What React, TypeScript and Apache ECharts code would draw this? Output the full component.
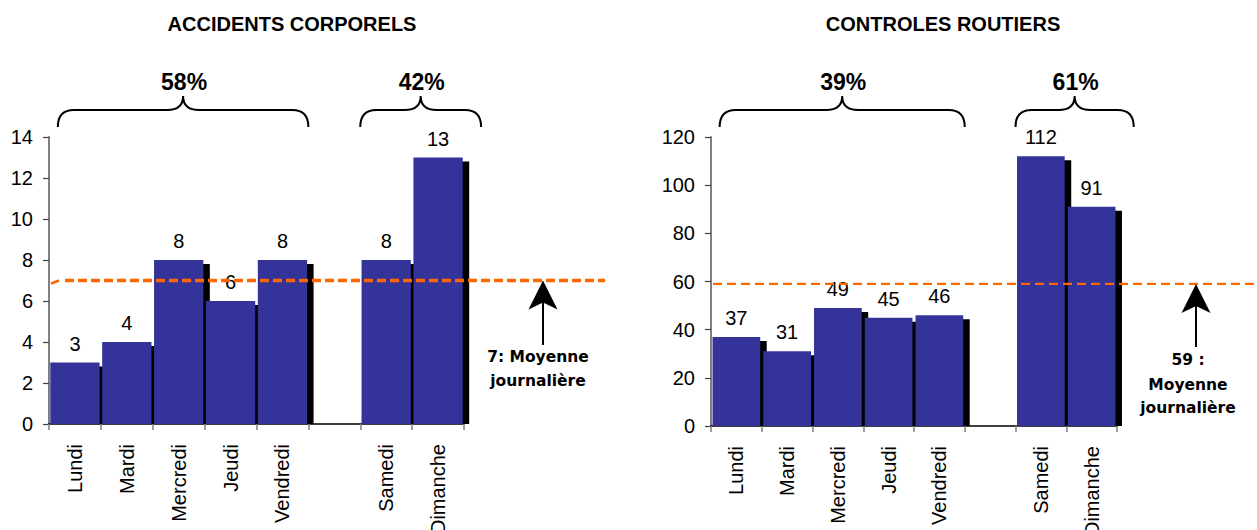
import React, { useEffect, useRef } from 'react';
import * as echarts from 'echarts';

// Days of the week; the empty slot separates weekdays from the weekend.
const days = ['Lundi', 'Mardi', 'Mercredi', 'Jeudi', 'Vendredi', '', 'Samedi', 'Dimanche'];

// ACCIDENTS CORPORELS
const accidents: (number | null)[] = [3, 4, 8, 6, 8, null, 8, 13];
const accidentsMean = 7;
const accidentsShares = ['58%', '42%'];

// CONTROLES ROUTIERS
const controles: (number | null)[] = [37, 31, 49, 45, 46, null, 112, 91];
const controlesMean = 59;
const controlesShares = ['39%', '61%'];

// Category groups spanned by the braces (weekdays, weekend).
const groups: [number, number][] = [
  [0, 4],
  [6, 7],
];

const FONT = '"Liberation Sans", Arial, Helvetica, sans-serif';
const BAR_COLOR = '#333399';
const MEAN_COLOR = '#FF6600';

const toItems = (values: (number | null)[]) =>
  values
    .map((v, i) => (v == null ? null : [i, v]))
    .filter((d) => d !== null) as number[][];

// Bar with a black offset shadow and its value above it.
const renderBar = (ratio: number) => (params: any, api: any) => {
  const idx = api.value(0);
  const val = api.value(1);
  const top = api.coord([idx, val]);
  const base = api.coord([idx, 0]);
  const band = api.size([1, 0])[0];
  const w = band * ratio;
  const x = top[0] - w / 2;
  const h = base[1] - top[1];
  return {
    type: 'group',
    children: [
      {
        type: 'rect',
        shape: { x: x + 6.5, y: top[1] + 4, width: w, height: Math.max(h - 4, 0) },
        style: { fill: '#000' },
      },
      {
        type: 'rect',
        shape: { x, y: top[1], width: w, height: h },
        style: { fill: BAR_COLOR },
      },
      {
        type: 'text',
        x: top[0],
        y: top[1] - 19,
        style: {
          text: String(val),
          fill: '#000',
          fontSize: 20,
          fontFamily: FONT,
          align: 'center',
          verticalAlign: 'middle',
        },
      },
    ],
  };
};

// Curly brace over a group of days with its share on top.
const BRACE_PADS = [
  [0.17, 0.0],
  [0.0, 0.33],
];
const renderBrace = (labels: string[]) => (params: any, api: any) => {
  const k = params.dataIndex;
  const [i0, i1] = groups[k];
  const c0 = api.coord([0, 0])[0];
  const band = api.size([1, 0])[0];
  const x0 = c0 + band * (i0 - 0.5 + BRACE_PADS[k][0]);
  const x1 = c0 + band * (i1 + 0.5 + BRACE_PADS[k][1]);
  const xc = (x0 + x1) / 2;
  const top = params.coordSys.y;
  const yb = top - 10;
  const yh = top - 27;
  const yp = top - 41;
  const r = 16;
  const d =
    `M${x0} ${yb} Q${x0} ${yh} ${x0 + r} ${yh} L${xc - r} ${yh} Q${xc} ${yh} ${xc} ${yp} ` +
    `Q${xc} ${yh} ${xc + r} ${yh} L${x1 - r} ${yh} Q${x1} ${yh} ${x1} ${yb}`;
  return {
    type: 'group',
    children: [
      {
        type: 'path',
        shape: { pathData: d },
        style: { fill: 'none', stroke: '#000', lineWidth: 2 },
      },
      {
        type: 'text',
        x: xc + 1,
        y: top - 55,
        style: {
          text: labels[k],
          fill: '#000',
          fontSize: 23,
          fontWeight: 'bold',
          fontFamily: FONT,
          align: 'center',
          verticalAlign: 'middle',
        },
      },
    ],
  };
};

// Dashed daily-mean line with an arrow and its caption.
const renderMean = (
  lines: string[],
  opts: { lineWidth: number; dash: number[]; startPad: number; lead: boolean; textDx: number; textYs: number[] }
) => (params: any, api: any) => {
  const cs = params.coordSys;
  const mean = api.value(1);
  const y = api.coord([0, mean])[1];
  const zeroY = api.coord([0, 0])[1];
  const right = cs.x + cs.width;
  const ax = right + 79;
  const children: any[] = [
    {
      type: 'line',
      shape: { x1: cs.x + opts.startPad, y1: y, x2: right + 141, y2: y },
      style: { stroke: MEAN_COLOR, lineWidth: opts.lineWidth, lineDash: opts.dash },
    },
    {
      type: 'line',
      shape: { x1: ax, y1: y + 20, x2: ax, y2: zeroY - 79 },
      style: { stroke: '#000', lineWidth: 2 },
    },
    {
      type: 'polygon',
      shape: {
        points: [
          [ax, y],
          [ax + 14.5, y + 29],
          [ax, y + 22],
          [ax - 14.5, y + 29],
        ],
      },
      style: { fill: '#000' },
    },
  ];
  if (opts.lead) {
    children.push({
      type: 'line',
      shape: { x1: cs.x + 2, y1: y + 3, x2: cs.x + 10, y2: y },
      style: { stroke: MEAN_COLOR, lineWidth: 2.5 },
    });
  }
  lines.forEach((t, i) => {
    children.push({
      type: 'text',
      x: ax + opts.textDx,
      y: zeroY - opts.textYs[i],
      style: {
        text: t,
        fill: '#000',
        fontSize: 15.5,
        fontWeight: 'bold',
        fontFamily: '"DejaVu Sans", sans-serif',
        align: 'center',
        verticalAlign: 'middle',
      },
    });
  });
  return { type: 'group', children };
};

const xAxisBase = (gridIndex: number) => ({
  type: 'category',
  gridIndex,
  data: days,
  axisLine: { show: true, lineStyle: { color: '#000', width: 1.5 } },
  axisTick: { show: true, length: 6, lineStyle: { color: '#808080', width: 1.5 } },
  axisLabel: {
    interval: 0,
    rotate: 90,
    margin: 20,
    color: '#000',
    fontSize: 20,
    fontFamily: FONT,
  },
  splitLine: { show: false },
});

const yAxisBase = (gridIndex: number, max: number, interval: number) => ({
  type: 'value',
  gridIndex,
  min: 0,
  max,
  interval,
  axisLine: { show: true, lineStyle: { color: '#808080', width: 2 } },
  axisTick: { show: true, length: 6, lineStyle: { color: '#404040', width: 1.2 } },
  axisLabel: { margin: 16, color: '#000', fontSize: 20, fontFamily: FONT },
  splitLine: { show: false },
});

export default function App() {
  const ref = useRef<HTMLDivElement>(null);

  useEffect(() => {
    if (!ref.current) return;
    const chart = echarts.init(ref.current, null, { renderer: 'svg' });
    chart.setOption({
      animation: false,
      backgroundColor: '#fff',
      grid: [
        { left: 49, top: 137, width: 415, height: 287, containLabel: false, outerBoundsMode: 'none' },
        { left: 711, top: 137, width: 406, height: 289, containLabel: false, outerBoundsMode: 'none' },
      ],
      xAxis: [xAxisBase(0), xAxisBase(1)],
      yAxis: [yAxisBase(0, 14, 2), yAxisBase(1, 120, 20)],
      graphic: [
        {
          type: 'text',
          x: 292,
          y: 24,
          style: {
            text: 'ACCIDENTS CORPORELS',
            fill: '#000',
            fontSize: 20,
            fontWeight: 'bold',
            fontFamily: FONT,
            align: 'center',
            verticalAlign: 'middle',
          },
        },
        {
          type: 'text',
          x: 943,
          y: 24,
          style: {
            text: 'CONTROLES ROUTIERS',
            fill: '#000',
            fontSize: 20,
            fontWeight: 'bold',
            fontFamily: FONT,
            align: 'center',
            verticalAlign: 'middle',
          },
        },
      ],
      series: [
        {
          type: 'custom',
          xAxisIndex: 0,
          yAxisIndex: 0,
          encode: { x: 0, y: 1 },
          data: toItems(accidents),
          renderItem: renderBar(0.95),
        },
        {
          type: 'custom',
          xAxisIndex: 1,
          yAxisIndex: 1,
          encode: { x: 0, y: 1 },
          data: toItems(controles),
          renderItem: renderBar(0.94),
        },
        {
          type: 'custom',
          xAxisIndex: 0,
          yAxisIndex: 0,
          encode: { x: 0, y: 1 },
          data: groups.map((g) => [g[0], 0]),
          renderItem: renderBrace(accidentsShares),
        },
        {
          type: 'custom',
          xAxisIndex: 1,
          yAxisIndex: 1,
          encode: { x: 0, y: 1 },
          data: groups.map((g) => [g[0], 0]),
          renderItem: renderBrace(controlesShares),
        },
        {
          type: 'custom',
          xAxisIndex: 0,
          yAxisIndex: 0,
          encode: { x: 0, y: 1 },
          data: [[0, accidentsMean]],
          renderItem: renderMean([`${accidentsMean}: Moyenne`, 'journalière'], {
            lineWidth: 3.3,
            dash: [9, 4],
            startPad: 16,
            lead: true,
            textDx: -5,
            textYs: [67, 43],
          }),
        },
        {
          type: 'custom',
          xAxisIndex: 1,
          yAxisIndex: 1,
          encode: { x: 0, y: 1 },
          data: [[0, controlesMean]],
          renderItem: renderMean([`${controlesMean} :`, 'Moyenne', 'journalière'], {
            lineWidth: 2.2,
            dash: [9, 5],
            startPad: 2,
            lead: false,
            textDx: -8,
            textYs: [66, 41, 18],
          }),
        },
      ],
    });
    return () => chart.dispose();
  }, []);

  return (
    <div
      ref={ref}
      style={{ position: 'fixed', left: 0, top: 0, width: 1257, height: 530, background: '#fff' }}
    />
  );
}
